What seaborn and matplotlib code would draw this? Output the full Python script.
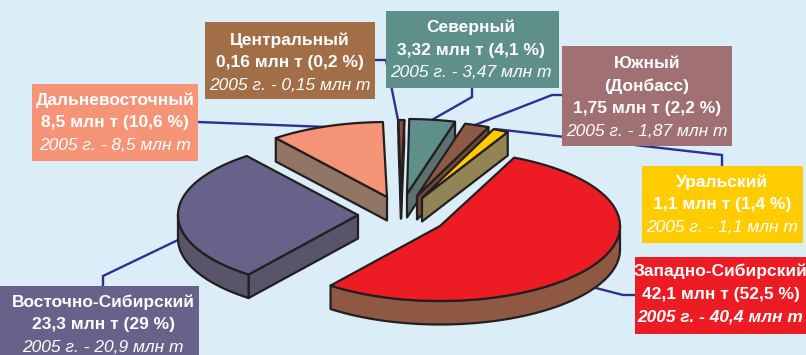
import numpy as np
import matplotlib
matplotlib.use("Agg")
import matplotlib.pyplot as plt
from matplotlib.patches import Polygon, Rectangle
import seaborn as sns

# ---- data ----
regions = ["Центральный", "Северный", "Южный\n(Донбасс)", "Уральский",
           "Западно-Сибирский", "Восточно-Сибирский", "Дальневосточный"]
output_2006 = ["0,16", "3,32", "1,75", "1,1", "42,1", "23,3", "8,5"]
shares_text = ["0,2", "4,1", "2,2", "1,4", "52,5", "29", "10,6"]
shares = [0.2, 4.1, 2.2, 1.4, 52.5, 29.0, 10.6]
output_2005 = ["0,15", "3,47", "1,87", "1,1", "40,4", "20,9", "8,5"]

# ---- style / layout ----
sns.set_theme(style="white", rc={"axes.facecolor": "#dbedf7", "figure.facecolor": "#dbedf7"})
plt.rcParams["font.family"] = ["Liberation Sans", "DejaVu Sans"]

top_colors = sns.color_palette(["#8a4f3a", "#5f8f8b", "#8e5a45", "#ffcc00", "#ed1c24", "#67628a", "#f59477"])
side_colors = sns.color_palette(["#6f4a3a", "#5b716f", "#6f4a3a", "#938456", "#8e5843", "#58546a", "#917666"])
box_colors = sns.color_palette(["#a26e47", "#5f8f8b", "#a07072", "#ffcc00", "#ed1c24", "#67628a", "#f59477"])

EDGE = "#231f20"
LEADER = "#2e3192"
RX, RY, DEPTH = 180, 75, 23.5

apex = [(401, 195), (407, 194), (417, 196), (422, 198), (440, 226), (358, 215), (387, 197)]
nudge_start = [-0.8, 0, 0, 0, -4.1, 0, 0]
nudge_end = [0.3, 0, 0, 0, 0, 0, -1.3]
boxes = [(205, 22, 375, 99), (386, 11, 559, 88), (562, 46, 732, 146), (642, 166, 803, 243),
         (635, 257, 806, 334), (0, 286, 199, 355), (32, 84, 198, 161)]
text_x = [290, 471, 647, 722, 720.5, 103, 115]
text_y0 = [40, 27, 63, 182, 271, 302, 100]
leaders = [
    [(375, 60), (386, 60), (398, 120)],
    [(430, 121), (472, 97), (472, 88)],
    [(475, 125), (552, 95), (562, 95)],
    [(495, 129), (722, 155), (722, 166)],
    [(592, 287), (623, 295), (635, 295)],
    [(178, 240), (103, 276), (103, 286)],
    [(198, 122), (327, 127)],
]
draw_order = [0, 1, 2, 3, 6, 5, 4]

fig = plt.figure(figsize=(8.06, 3.55), dpi=100)
ax = fig.add_axes([0, 0, 1, 1])
ax.set_xlim(0, 806)
ax.set_ylim(355, 0)
ax.axis("off")


def pt(c, deg):
    t = np.radians(deg)
    return np.array([c[0] + RX * np.sin(t), c[1] - RY * np.cos(t)])


def arc(c, a, b):
    n = max(2, int(abs(b - a) * 2) + 2)
    return np.array([pt(c, d) for d in np.linspace(a, b, n)])


def extrude(path, **kw):
    path = np.asarray(path)
    poly = np.vstack([path, (path + [0, DEPTH])[::-1]])
    ax.add_patch(Polygon(poly, closed=True, joinstyle="round", **kw))


for seg in leaders:
    xs, ys = zip(*seg)
    ax.plot(xs, ys, color=LEADER, lw=1.7, zorder=1, solid_joinstyle="miter")

cum = np.cumsum([0] + shares) / sum(shares) * 360
for i in draw_order:
    a, b = cum[i] + nudge_start[i], cum[i + 1] + nudge_end[i]
    c = np.array(apex[i], float)
    kw = dict(facecolor=side_colors[i], edgecolor=EDGE, lw=1.6, zorder=2 + draw_order.index(i))
    # visible vertical faces
    if 180 < a % 360 < 360:
        extrude([c, pt(c, a)], **kw)
    if 0 < b % 360 < 180:
        extrude([c, pt(c, b)], **kw)
    lo, hi = max(a, 90), min(b, 270)
    if hi > lo:
        extrude(arc(c, lo, hi), **kw)
    # top face
    top = np.vstack([[c], arc(c, a, b)])
    ax.add_patch(Polygon(top, closed=True, facecolor=top_colors[i], edgecolor=EDGE, lw=1.6,
                         joinstyle="round", zorder=2 + draw_order.index(i)))

for i, name in enumerate(regions):
    x0, y0, x1, y1 = boxes[i]
    ax.add_patch(Rectangle((x0, y0), x1 - x0, y1 - y0, facecolor=box_colors[i], edgecolor="none", zorder=20))
    lines = name.split("\n") + [f"{output_2006[i]} млн т ({shares_text[i]} %)"]
    y = text_y0[i]
    for ln in lines:
        ax.text(text_x[i], y, ln, color="white", fontsize=12.5, fontweight="bold",
                ha="center", va="center", zorder=21)
        y += 23
    ax.text(text_x[i], y - 0.5, f"2005 г. - {output_2005[i]} млн т", color="white", fontsize=12.5,
            fontstyle="italic", fontweight="bold" if i == 4 else "normal",
            ha="center", va="center", zorder=21)

fig.savefig("out.png", dpi=100, facecolor=fig.get_facecolor())
